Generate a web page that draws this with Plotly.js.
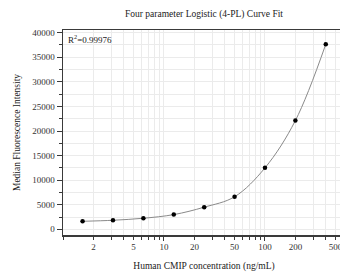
<!DOCTYPE html>
<html>
<head>
<meta charset="utf-8">
<script src="https://cdn.plot.ly/plotly-3.0.1.min.js"></script>
<style>
html,body{margin:0;padding:0;overflow:hidden;background:#fff;}
#chart{width:350px;height:278px;}
</style>
</head>
<body>
<div id="chart"></div>
<script>
// Data
var concentration = [1.5625, 3.125, 6.25, 12.5, 25, 50, 100, 200, 400];
var mfi = [1630, 1840, 2250, 2990, 4500, 6620, 12500, 22120, 37650];
var xTickVals = [2, 5, 10, 20, 50, 100, 200, 500];
var xTickText = ['2', '5', '10', '20', '50', '100', '200', '500'];
var xMinorVals = [1, 3, 4, 6, 7, 8, 9, 30, 40, 60, 70, 80, 90, 300, 400, 600, 700, 800, 900];
var xDecadeVals = [10, 100];
var r2Text = 'R<sup>2</sup>=0.99976';

var serif = 'Liberation Serif, Times New Roman, serif';
var axisColor = '#3a3a3a';
var gridColor = '#ebebeb';

var traces = [
  {x: concentration, y: mfi, type: 'scatter', mode: 'lines',
   line: {color: '#8a8a8a', width: 1, shape: 'spline', smoothing: 1},
   hoverinfo: 'skip', showlegend: false},
  {x: concentration, y: mfi, type: 'scatter', mode: 'markers',
   marker: {color: '#000', size: 4.5}, showlegend: false},
  // invisible trace to drive the overlay axis with long decade ticks
  {x: concentration, y: mfi, xaxis: 'x2', type: 'scatter', mode: 'markers',
   marker: {opacity: 0}, hoverinfo: 'skip', showlegend: false}
];

var layout = {
  width: 350, height: 278,
  margin: {l: 63, r: 5, t: 30, b: 43},
  paper_bgcolor: '#fff', plot_bgcolor: '#fff',
  font: {family: serif, color: '#333', size: 9},
  title: {text: 'Four parameter Logistic (4-PL) Curve Fit',
          font: {family: serif, size: 9.5, color: '#222'},
          x: 0.5, xref: 'paper', y: 1, yref: 'container', yanchor: 'top', pad: {t: 10}},
  xaxis: {
    type: 'log', range: [0, Math.log10(620)],
    tickmode: 'array', tickvals: xTickVals, ticktext: xTickText,
    ticks: 'outside', ticklen: 3, tickwidth: 1, tickcolor: axisColor,
    showgrid: true, gridcolor: gridColor, gridwidth: 1,
    showline: true, linecolor: axisColor, linewidth: 1.5, mirror: true,
    zeroline: false,
    tickfont: {family: serif, size: 9, color: '#333'},
    minor: {tickmode: 'array', tickvals: xMinorVals, ticks: 'outside', ticklen: 3,
            tickcolor: axisColor, showgrid: true, gridcolor: gridColor},
    title: {text: 'Human CMIP concentration (ng/mL)', standoff: 11,
            font: {family: serif, size: 9.5, color: '#222'}}
  },
  xaxis2: {
    type: 'log', overlaying: 'x', matches: 'x', side: 'bottom',
    anchor: 'y', tickmode: 'array', tickvals: xDecadeVals,
    ticks: 'outside', ticklen: 5, tickwidth: 1, tickcolor: axisColor,
    showticklabels: false, showgrid: false, showline: false, zeroline: false
  },
  yaxis: {
    range: [-1160, 40550],
    tickmode: 'linear', tick0: 0, dtick: 5000, tickformat: 'd',
    ticks: 'outside', ticklen: 5, tickwidth: 1, tickcolor: axisColor,
    showgrid: true, gridcolor: gridColor,
    showline: true, linecolor: axisColor, linewidth: 1.5,
    zeroline: false,
    tickfont: {family: serif, size: 9, color: '#333'},
    minor: {tickmode: 'linear', dtick: 2500, tick0: 0, ticks: 'outside', ticklen: 3,
            tickcolor: axisColor, showgrid: true, gridcolor: gridColor},
    title: {text: 'Median Fluorescence Intensity', standoff: 10,
            font: {family: serif, size: 9.5, color: '#222'}}
  },
  annotations: [{
    text: r2Text, xref: 'paper', yref: 'paper', x: 0.01, y: 0.995,
    xanchor: 'left', yanchor: 'top', showarrow: false,
    font: {family: serif, size: 9, color: '#222'}
  }]
};

Plotly.newPlot('chart', traces, layout, {displayModeBar: false, staticPlot: true});
</script>
</body>
</html>
